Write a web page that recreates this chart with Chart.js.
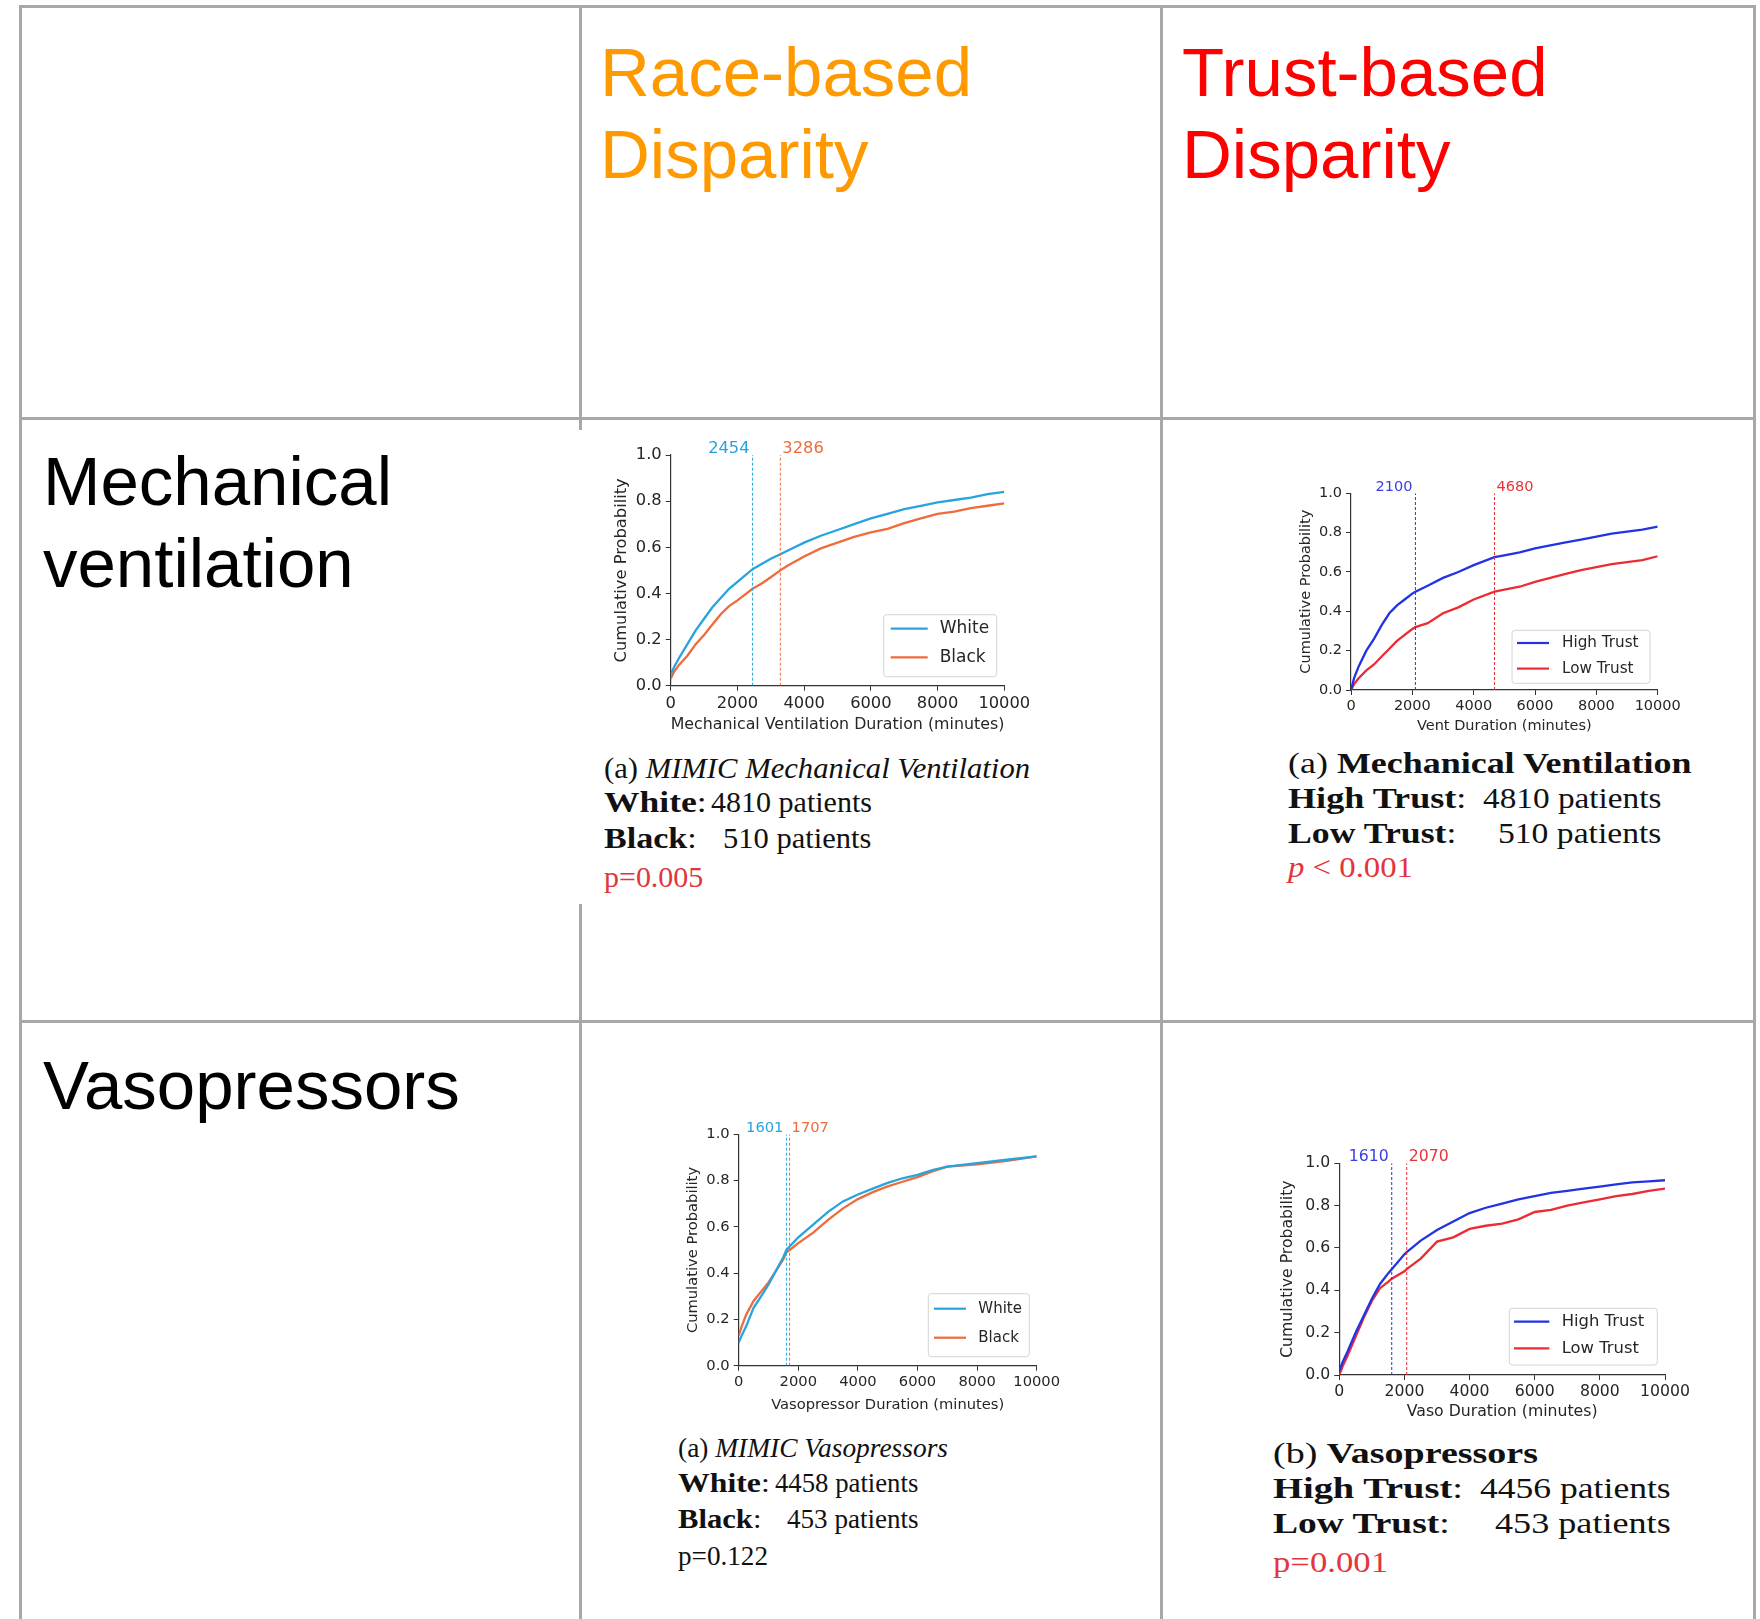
<!DOCTYPE html>
<html>
<head>
<meta charset="utf-8">
<title>Race-based vs trust-based disparity</title>
<script src="https://cdn.jsdelivr.net/npm/chart.js@4.4.1/dist/chart.umd.min.js"></script>
<style>
  body { margin:0; width:1760px; height:1619px; background:#fff; position:relative; overflow:hidden; }
  .ln { position:absolute; background:#a8a8a8; }
  .tx { position:absolute; white-space:nowrap; transform-origin:0 0; }
  canvas { position:absolute; }
</style>
</head>
<body>
<!-- table grid -->
<div class="ln" style="left:19px;top:5px;width:1737px;height:3px"></div>
<div class="ln" style="left:19px;top:417px;width:1737px;height:3px"></div>
<div class="ln" style="left:19px;top:1020px;width:1737px;height:3px"></div>
<div class="ln" style="left:19px;top:5px;width:3px;height:1614px"></div>
<div class="ln" style="left:579px;top:5px;width:3px;height:1614px"></div>
<div class="ln" style="left:1160px;top:5px;width:3px;height:1614px"></div>
<div class="ln" style="left:1753px;top:5px;width:3px;height:1614px"></div>
<!-- pasted figure covers the column line here -->
<div style="position:absolute;left:577px;top:430px;width:7px;height:474px;background:#fff"></div>

<script>
// ---- data ----
const durTicks = [0, 2000, 4000, 6000, 8000, 10000];
const probTicks = [0, 0.2, 0.4, 0.6, 0.8, 1.0];
const raceLabels = ['White', 'Black'];
const trustLabels = ['High Trust', 'Low Trust'];

// mechanical ventilation, race
const raceMvDur = [0,100,250,500,750,1000,1250,1500,1750,2000,2454,2750,3000,3286,3500,4000,4500,5000,5500,6000,6500,7000,7500,8000,8500,9000,9500,10000];
const raceMvWhite = [0.05,0.08,0.12,0.18,0.24,0.29,0.34,0.38,0.42,0.45,0.505,0.53,0.55,0.57,0.585,0.62,0.65,0.675,0.70,0.725,0.745,0.765,0.78,0.795,0.805,0.815,0.83,0.84];
const raceMvBlack = [0.03,0.06,0.09,0.13,0.18,0.22,0.265,0.31,0.345,0.37,0.42,0.445,0.47,0.50,0.52,0.56,0.595,0.62,0.645,0.665,0.68,0.705,0.725,0.745,0.755,0.77,0.78,0.79];
const raceMvMedians = [2454, 3286];

// mechanical ventilation, trust
const trustMvDur = [0,100,250,500,750,1000,1250,1500,1750,2000,2100,2500,3000,3500,4000,4680,5000,5500,6000,6500,7000,7500,8000,8500,9000,9500,10000];
const trustMvHigh = [0,0.06,0.12,0.20,0.26,0.33,0.39,0.43,0.46,0.49,0.50,0.53,0.57,0.60,0.635,0.675,0.685,0.70,0.72,0.735,0.75,0.765,0.78,0.795,0.805,0.815,0.83];
const trustMvLow = [0,0.03,0.06,0.10,0.13,0.17,0.21,0.25,0.28,0.31,0.32,0.34,0.39,0.42,0.46,0.50,0.51,0.525,0.55,0.57,0.59,0.61,0.625,0.64,0.65,0.66,0.68];
const trustMvMedians = [2100, 4680];

// vasopressors, race
const raceVpDur = [0,100,250,500,750,1000,1250,1500,1601,1707,2000,2500,3000,3500,4000,4500,5000,5500,6000,6500,7000,8000,9000,10000];
const raceVpWhite = [0.10,0.13,0.17,0.25,0.30,0.35,0.41,0.47,0.50,0.515,0.555,0.61,0.665,0.71,0.74,0.765,0.79,0.81,0.825,0.845,0.86,0.875,0.89,0.905];
const raceVpBlack = [0.13,0.17,0.22,0.28,0.32,0.36,0.41,0.46,0.49,0.50,0.53,0.575,0.63,0.68,0.72,0.75,0.775,0.795,0.815,0.84,0.86,0.87,0.885,0.905];
const raceVpMedians = [1601, 1707];

// vasopressors, trust
const trustVpDur = [0,100,250,500,750,1000,1250,1500,1610,2000,2070,2500,3000,3500,4000,4500,5000,5500,6000,6500,7000,7500,8000,8500,9000,9500,10000];
const trustVpHigh = [0.02,0.06,0.11,0.20,0.28,0.36,0.43,0.48,0.50,0.57,0.58,0.635,0.685,0.725,0.765,0.79,0.81,0.83,0.845,0.86,0.87,0.88,0.89,0.90,0.91,0.915,0.92];
const trustVpLow = [0,0.04,0.09,0.18,0.27,0.35,0.41,0.44,0.455,0.49,0.50,0.55,0.63,0.65,0.69,0.705,0.715,0.735,0.77,0.78,0.80,0.815,0.83,0.845,0.855,0.87,0.88];
const trustVpMedians = [1610, 2070];

const raceColors = ['#27a4df', '#ee6b3b'];
const trustColors = ['#2233e4', '#ec2b33'];
const TICK = '#262626';

// text placed by its baseline, optionally squeezed/stretched to a width
function place(html, x, base, font, color, w) {
  const el = document.createElement('div');
  el.className = 'tx';
  el.style.font = font;
  el.style.color = color || '#111';
  el.innerHTML = html + '<span style="display:inline-block;width:0;height:0"></span>';
  document.body.appendChild(el);
  el.style.left = x + 'px';
  el.style.top = (base - el.lastChild.offsetTop) + 'px';
  if (w) {
    const nat = el.getBoundingClientRect().width;
    el.style.transform = `scaleX(${w / nat})`;
  }
}

// headers
const HEAD = '69px "Liberation Sans", Arial, sans-serif';
place('Race-based', 600, 96, HEAD, '#ff9900');
place('Disparity', 600, 178, HEAD, '#ff9900');
place('Trust-based', 1182, 96, HEAD, '#ff0000');
place('Disparity', 1182, 178, HEAD, '#ff0000');
place('Mechanical', 43, 505, HEAD, '#000');
place('ventilation', 43, 587, HEAD, '#000');
place('Vasopressors', 43, 1109, HEAD, '#000');

// little plugins: median labels above the plot, legend box at lower right
function medianLabels(meds, colors, size) {
  return {
    id: 'medianLabels',
    afterDatasetsDraw(chart) {
      const {ctx, scales: {x, y}} = chart;
      ctx.save();
      ctx.font = `${size}px "DejaVu Sans"`;
      ctx.textBaseline = 'alphabetic';
      meds.forEach((m, i) => {
        const px = x.getPixelForValue(m);
        ctx.fillStyle = colors[i];
        ctx.textAlign = i === 0 ? 'right' : 'left';
        ctx.fillText(String(m), px + (i === 0 ? -3 : 2), y.getPixelForValue(1) - 2);
      });
      ctx.restore();
    }
  };
}

function boxLegend(o) {
  return {
    id: 'boxLegend',
    afterDraw(chart) {
      const {ctx, chartArea: a} = chart;
      const x0 = a.right - o.inset[0] - o.w, y0 = a.bottom - o.inset[1] - o.h;
      ctx.save();
      ctx.fillStyle = 'rgba(255,255,255,0.85)';
      ctx.strokeStyle = '#d4d4d4';
      ctx.lineWidth = 1;
      ctx.beginPath();
      ctx.roundRect(x0, y0, o.w, o.h, 3);
      ctx.fill(); ctx.stroke();
      ctx.font = `${o.size}px "DejaVu Sans"`;
      ctx.textBaseline = 'middle';
      ctx.textAlign = 'left';
      chart.data.datasets.filter(d => d.inLegend).forEach((d, i) => {
        const cy = y0 + o.first + i * o.row;
        ctx.strokeStyle = d.borderColor;
        ctx.lineWidth = 2.2;
        ctx.beginPath(); ctx.moveTo(x0 + o.lx, cy); ctx.lineTo(x0 + o.lx + o.len, cy); ctx.stroke();
        ctx.fillStyle = TICK;
        ctx.fillText(d.label, x0 + o.tx, cy);
      });
      ctx.restore();
    }
  };
}

function build(s) {
  const half = s.font * 0.6;
  const left = Math.round(s.yTitleX - half);
  const top = Math.round(s.T - 35);
  const padTop = s.T - top;
  const yW = s.L - left;
  const cw = Math.round(yW + (s.R - s.L) + 40);
  const padRight = cw - yW - (s.R - s.L);
  const ch = Math.round(padTop + (s.B - s.T) + (s.xTitleY + half - s.B));
  const xH = ch - padTop - (s.B - s.T);

  const cv = document.createElement('canvas');
  cv.width = cw; cv.height = ch;
  cv.style.left = left + 'px'; cv.style.top = top + 'px';
  cv.style.width = cw + 'px'; cv.style.height = ch + 'px';
  document.body.appendChild(cv);

  const datasets = [];
  s.medians.forEach((m, i) => datasets.push({
    label: 'median ' + m, data: [{x: m, y: 0}, {x: m, y: 1}],
    showLine: true, borderColor: s.colors[i], borderWidth: 1, borderDash: [3, 2], pointRadius: 0
  }));
  s.series.forEach((vals, i) => datasets.push({
    label: s.labels[i], inLegend: true,
    data: s.dur.map((d, k) => ({x: d, y: vals[k]})),
    showLine: true, borderColor: s.colors[i], borderWidth: 2.3, pointRadius: 0, tension: 0
  }));

  const tickFont = {family: 'DejaVu Sans', size: s.font};
  const axisCommon = {
    grid: {display: true, drawOnChartArea: false, drawTicks: true, tickLength: 5, color: '#333', lineWidth: 1},
    border: {display: true, color: '#333', width: 1.2}
  };

  new Chart(cv, {
    type: 'scatter',
    data: {datasets},
    options: {
      responsive: false, animation: false, devicePixelRatio: 1,
      layout: {padding: {top: padTop, right: padRight, left: 0, bottom: 0}},
      plugins: {legend: {display: false}, tooltip: {enabled: false}},
      scales: {
        x: {
          ...axisCommon, type: 'linear', min: 0, max: 10000,
          afterBuildTicks: sc => { sc.ticks = durTicks.map(v => ({value: v})); },
          afterFit: sc => { sc.height = xH; },
          ticks: {color: TICK, font: tickFont, padding: 3, maxRotation: 0, autoSkip: false, callback: v => String(v)},
          title: {display: true, text: s.xTitle, color: TICK, font: tickFont, padding: 0}
        },
        y: {
          ...axisCommon, type: 'linear', min: 0, max: 1,
          afterBuildTicks: sc => { sc.ticks = probTicks.map(v => ({value: v})); },
          afterFit: sc => { sc.width = yW; },
          ticks: {color: TICK, font: tickFont, padding: 4, callback: v => v.toFixed(1)},
          title: {display: true, text: 'Cumulative Probability', color: TICK, font: tickFont, padding: 0}
        }
      }
    },
    plugins: [medianLabels(s.medians, s.labelColors, s.font), boxLegend(s.legend)]
  });
}

build({L: 670.7, R: 1004.3, T: 455, B: 685.7, xTitleY: 725, yTitleX: 621.5, font: 16.3,
  xTitle: 'Mechanical Ventilation Duration (minutes)', dur: raceMvDur, series: [raceMvWhite, raceMvBlack],
  labels: raceLabels, colors: raceColors, labelColors: raceColors, medians: raceMvMedians,
  legend: {w: 113, h: 62, inset: [7.6, 9], first: 14, row: 28.7, lx: 7, len: 37, tx: 56, size: 17}});

build({L: 1351, R: 1657.7, T: 493.3, B: 690, xTitleY: 726, yTitleX: 1306.7, font: 14.5,
  xTitle: 'Vent Duration (minutes)', dur: trustMvDur, series: [trustMvHigh, trustMvLow],
  labels: trustLabels, colors: trustColors, labelColors: ['#3b40e0', '#e8333b'], medians: trustMvMedians,
  legend: {w: 138, h: 53, inset: [7.7, 6.7], first: 12.7, row: 25.6, lx: 5, len: 32, tx: 50, size: 15.2}});

build({L: 738.7, R: 1036.7, T: 1134.3, B: 1365.7, xTitleY: 1405, yTitleX: 693.3, font: 14.7,
  xTitle: 'Vasopressor Duration (minutes)', dur: raceVpDur, series: [raceVpWhite, raceVpBlack],
  labels: raceLabels, colors: raceColors, labelColors: raceColors, medians: raceVpMedians,
  legend: {w: 101, h: 63, inset: [7.4, 9], first: 15, row: 29, lx: 5.7, len: 32, tx: 50, size: 15}});

build({L: 1339.3, R: 1665, T: 1163.3, B: 1375, xTitleY: 1411.5, yTitleX: 1288.3, font: 15.7,
  xTitle: 'Vaso Duration (minutes)', dur: trustVpDur, series: [trustVpHigh, trustVpLow],
  labels: trustLabels, colors: trustColors, labelColors: ['#3b40e0', '#e8333b'], medians: trustVpMedians,
  legend: {w: 148, h: 56.7, inset: [7.7, 10], first: 13.4, row: 26.6, lx: 4.7, len: 35.3, tx: 52.4, size: 16.4}});

// captions under each plot
const SERIF = '"Liberation Serif", "Times New Roman", serif';
const RED = '#e2363c';
const cap = (size) => `${size}px ${SERIF}`;

place('(a) <i>MIMIC Mechanical Ventilation</i>', 604, 777.7, cap(29), '#111', 426);
place('<b>White</b>:', 604, 811.7, cap(29), '#111', 102.7);
place('4810 patients', 710.7, 811.7, cap(29), '#111', 161);
place('<b>Black</b>:', 604, 848.3, cap(29), '#111', 92.7);
place('510 patients', 723.3, 848.3, cap(29), '#111', 148.4);
place('p=0.005', 604, 886.7, cap(29), RED, 99.3);

place('(a) <b>Mechanical Ventilation</b>', 1288.3, 773.3, cap(28.5), '#111', 403.4);
place('<b>High Trust</b>:', 1288.3, 808.3, cap(28.5), '#111', 178.4);
place('4810 patients', 1483.3, 808.3, cap(28.5), '#111', 178.4);
place('<b>Low Trust</b>:', 1288.3, 842.7, cap(28.5), '#111', 168.4);
place('510 patients', 1498.3, 842.7, cap(28.5), '#111', 163.4);
place('<i>p</i> &lt; 0.001', 1288.3, 876.7, cap(28.5), RED, 125);

place('(a) <i>MIMIC Vasopressors</i>', 678.3, 1456.7, cap(28), '#111', 270);
place('<b>White</b>:', 678.3, 1491.7, cap(28), '#111', 91.7);
place('4458 patients', 775, 1491.7, cap(28), '#111', 143.3);
place('<b>Black</b>:', 678.3, 1528.3, cap(28), '#111', 83.4);
place('453 patients', 786.7, 1528.3, cap(28), '#111', 131.6);
place('p=0.122', 678.3, 1565, cap(28), '#111', 90);

place('(b) <b>Vasopressors</b>', 1273.3, 1463.3, cap(30), '#111', 265);
place('<b>High Trust</b>:', 1273.3, 1498.3, cap(30), '#111', 190);
place('4456 patients', 1480, 1498.3, cap(30), '#111', 190.7);
place('<b>Low Trust</b>:', 1273.3, 1533.3, cap(30), '#111', 176.7);
place('453 patients', 1495, 1533.3, cap(30), '#111', 175.7);
place('p=0.001', 1273.3, 1571.7, cap(30), RED, 115);
</script>
</body>
</html>
